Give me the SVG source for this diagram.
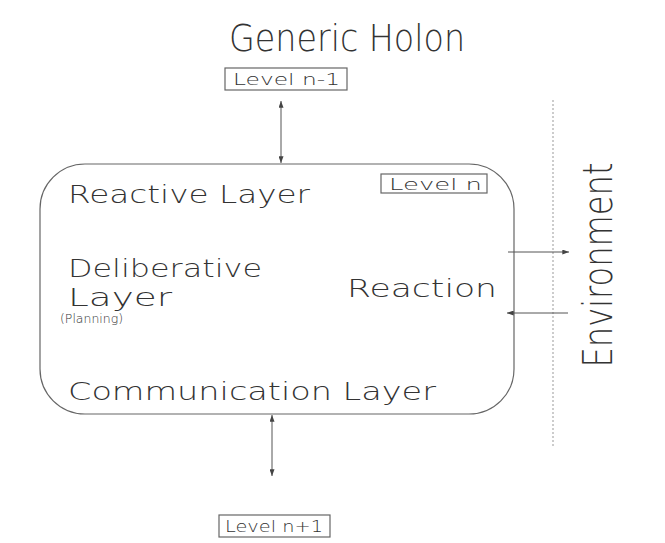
<svg xmlns="http://www.w3.org/2000/svg" width="665" height="543" viewBox="0 0 665 543">
<style>
text{font-family:"DejaVu Sans","Liberation Sans",sans-serif;fill:#333;font-weight:200}
.lbl{font-size:16px}
.big{font-size:25px}
.box{fill:#fff;stroke:#666;stroke-width:1.2}
.c{stroke:#555;stroke-width:1;fill:none;marker-end:url(#a);marker-start:url(#s)}
.c1{stroke:#555;stroke-width:1;fill:none;marker-end:url(#a)}
</style>
<defs>
<marker id="a" viewBox="0 0 8 6" refX="8" refY="3" markerWidth="7" markerHeight="5" orient="auto"><path d="M0 0L8 3L0 6z" fill="#444"/></marker>
<marker id="s" viewBox="0 0 8 6" refX="0" refY="3" markerWidth="7" markerHeight="5" orient="auto"><path d="M8 0L0 3L8 6z" fill="#444"/></marker>
</defs>
<rect width="665" height="543" fill="#fff"/>
<text x="229" y="51" style="font-size:38px" textLength="236" lengthAdjust="spacingAndGlyphs">Generic Holon</text>
<line x1="553" y1="100" x2="553" y2="447" stroke="#999" stroke-width="1" stroke-dasharray="2,2"/>
<text transform="translate(612,265) rotate(-90)" text-anchor="middle" style="font-size:40px" textLength="205" lengthAdjust="spacingAndGlyphs">Environment</text>
<g id="holon">
<rect x="40" y="164" width="474" height="250" rx="45" ry="45" class="box" stroke="#888"/>
<text x="68" y="203" class="big" textLength="242" lengthAdjust="spacingAndGlyphs">Reactive Layer</text>
<text x="68" y="277" class="big" textLength="194" lengthAdjust="spacingAndGlyphs">Deliberative</text>
<text x="68" y="306" class="big" textLength="104" lengthAdjust="spacingAndGlyphs">Layer</text>
<text x="60" y="323" style="font-size:13px" textLength="63" lengthAdjust="spacingAndGlyphs">(Planning)</text>
<text x="347" y="297" class="big" textLength="150" lengthAdjust="spacingAndGlyphs">Reaction</text>
<text x="68" y="400" class="big" textLength="368" lengthAdjust="spacingAndGlyphs">Communication Layer</text>
</g>
<g id="level-n"><rect x="381" y="174" width="106" height="19" class="box"/><text x="389" y="190" class="lbl" textLength="93" lengthAdjust="spacingAndGlyphs">Level n</text></g>
<g id="level-n-1"><rect x="225" y="68" width="122" height="22" class="box"/><text x="233" y="85" class="lbl" textLength="107" lengthAdjust="spacingAndGlyphs">Level n-1</text></g>
<g id="level-n+1"><rect x="219" y="515" width="111" height="22" class="box"/><text x="225" y="532" class="lbl" textLength="98" lengthAdjust="spacingAndGlyphs">Level n+1</text></g>
<g id="connectors">
<line x1="281" y1="101" x2="281" y2="163" class="c"/>
<line x1="272" y1="415" x2="272" y2="476" class="c"/>
<line x1="508" y1="252" x2="569" y2="252" class="c1"/>
<line x1="568" y1="313" x2="507" y2="313" class="c1"/>
</g>
</svg>
